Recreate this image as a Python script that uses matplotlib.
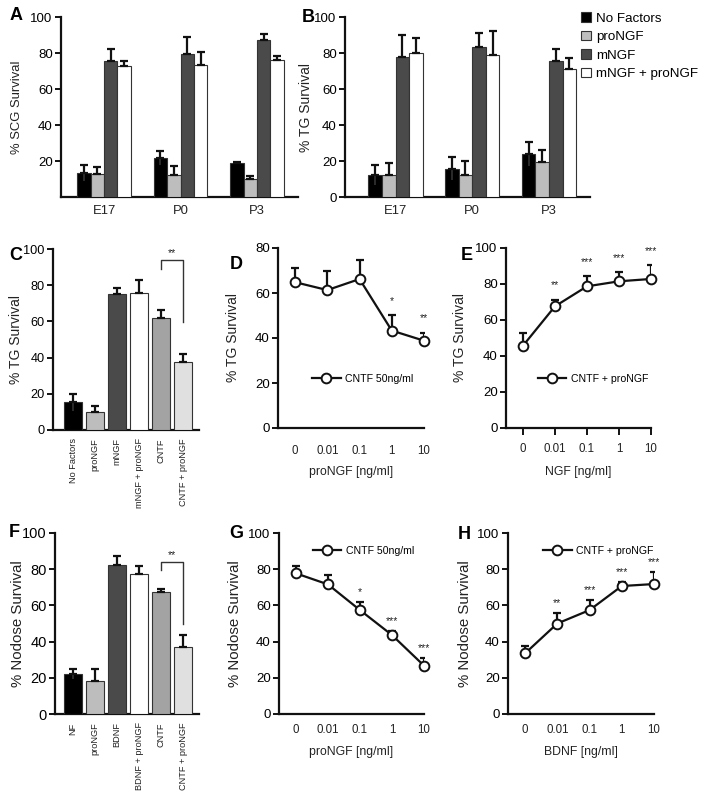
import numpy as np
import matplotlib
matplotlib.use("Agg")
import matplotlib.pyplot as plt

plt.rcParams['font.family'] = ['Liberation Sans', 'DejaVu Sans']

# ---- data ----
ages = ['E17', 'P0', 'P3']
factor_names = ['No Factors', 'proNGF', 'mNGF', 'mNGF + proNGF']
factor_colors = ['#000000', '#bdbdbd', '#4a4a4a', '#ffffff']

scg_mean = [[13.3, 21.5, 18.8], [12.8, 12.0, 10.0], [75.6, 79.4, 87.4], [72.8, 73.3, 76.0]]
scg_err = [[4.5, 3.8, 0.6], [3.7, 5.0, 1.8], [6.6, 9.7, 3.0], [3.0, 7.0, 2.3]]

tg_mean = [[12.0, 15.8, 24.0], [12.4, 12.0, 19.5], [77.8, 83.3, 75.4], [80.2, 79.0, 71.0]]
tg_err = [[5.6, 6.2, 6.5], [6.6, 7.8, 6.5], [12.4, 8.0, 6.6], [8.0, 13.0, 6.4]]

c_labels = ['No Factors', 'proNGF', 'mNGF', 'mNGF + proNGF', 'CNTF', 'CNTF + proNGF']
c_mean = [15.2, 10.2, 75.4, 75.9, 62.0, 37.4]
c_err = [4.8, 2.8, 3.3, 7.0, 4.1, 4.8]

f_labels = ['NF', 'proNGF', 'BDNF', 'BDNF + proNGF', 'CNTF', 'CNTF + proNGF']
f_mean = [22.0, 18.0, 82.5, 77.5, 67.5, 36.8]
f_err = [2.8, 6.8, 5.0, 4.0, 1.8, 6.7]
six_colors = ['#000000', '#bdbdbd', '#4a4a4a', '#ffffff', '#a3a3a3', '#e0e0e0']

dose_labels = ['0', '0.01', '0.1', '1', '10']
d_mean = [64.8, 61.3, 66.2, 43.3, 38.8]
d_err = [6.3, 8.3, 8.3, 6.9, 3.6]
d_stars = ['', '', '', '*', '**']

e_mean = [45.7, 67.6, 78.7, 81.5, 82.8]
e_err = [6.9, 3.7, 5.9, 5.2, 7.5]
e_stars = ['', '**', '***', '***', '***']

g_mean = [77.7, 71.6, 57.4, 43.6, 26.7]
g_err = [4.2, 5.2, 4.6, 2.4, 4.3]
g_stars = ['', '', '*', '***', '***']

h_mean = [33.5, 50.0, 57.4, 70.7, 71.8]
h_err = [4.0, 5.6, 5.6, 2.3, 6.5]
h_stars = ['', '**', '***', '***', '***']

W, H = 707, 807
fig = plt.figure(figsize=(W / 100, H / 100), dpi=100)


def px_axes(l, t, r, b):
    return fig.add_axes([l / W, 1 - b / H, (r - l) / W, (b - t) / H])


def style(ax, fs=9.5):
    for s in ['top', 'right']:
        ax.spines[s].set_visible(False)
    for s in ['left', 'bottom']:
        ax.spines[s].set_linewidth(1.6)
        ax.spines[s].set_color('#111111')
    ax.tick_params(axis='y', direction='out', length=4, width=1.3, labelsize=fs, pad=2)


def ylab(ax, text, right_px, l, r, fs):
    ax.set_ylabel(text, fontsize=fs, color='#222222')
    ax.yaxis.set_label_coords((right_px - l) / (r - l), 0.5)


def err_up(ax, x, m, e, lw=1.6, cap=3.0):
    ax.errorbar(x, m, yerr=[np.zeros(len(e)), e], fmt='none', ecolor='#111111',
                elinewidth=lw, capsize=cap, capthick=lw, zorder=4)


def err_down_dark(ax, x, m, e):
    # lower half of the error bar only shows as a faint line on the black bars
    ax.errorbar(x, m, yerr=[e, np.zeros(len(e))], fmt='none', ecolor='#2c2c2c',
                elinewidth=1.4, capsize=0, zorder=4)


# ---- A and B: grouped bars ----
def grouped(ax, means, errs, ymin_tick):
    w = 0.176
    x = np.arange(len(ages))
    for i in range(4):
        xi = x + (i - 1.5) * w
        ax.bar(xi, means[i], w, color=factor_colors[i], edgecolor='#333333',
               linewidth=0.8, zorder=3, label=factor_names[i])
        if i == 0:
            err_down_dark(ax, xi, means[i], errs[i])
        err_up(ax, xi, means[i], errs[i])
    ax.set_ylim(0, 100)
    ax.set_yticks(np.arange(ymin_tick, 101, 20))
    ax.set_xticks(x)
    ax.set_xticklabels(ages, fontsize=9.4, color='#222222')
    ax.tick_params(axis='x', length=0, pad=6)


axA = px_axes(61, 17, 298, 197)
style(axA)
grouped(axA, scg_mean, scg_err, 20)
axA.set_xlim((61 - 104) / 76.5, (298 - 104) / 76.5)
ylab(axA, '% SCG Survival', 23, 61, 298, 9.4)

axB = px_axes(345, 17, 590, 197)
style(axB)
grouped(axB, tg_mean, tg_err, 0)
axB.set_xlim((345 - 395.5) / 76.75, (590 - 395.5) / 76.75)
ylab(axB, '% TG Survival', 313, 345, 590, 10)
axB.legend(loc='upper left', bbox_to_anchor=(581 / W, 1 - 12 / H), bbox_transform=fig.transFigure,
           frameon=False, fontsize=9.6, handlelength=0.75, handleheight=0.75,
           handletextpad=0.4, labelspacing=0.45, borderpad=0, borderaxespad=0)


# ---- C and F: single bars with bracket ----
def single(ax, labels, means, errs, bracket, fs_tick):
    x = np.arange(len(labels))
    ax.bar(x, means, 0.86, color=six_colors, edgecolor='#333333', linewidth=0.8, zorder=3)
    err_down_dark(ax, x[:1], means[:1], errs[:1])
    err_up(ax, x, means, errs)
    ax.set_ylim(0, 100)
    ax.set_yticks(np.arange(0, 101, 20))
    ax.set_xticks(x)
    ax.set_xticklabels(labels, rotation=90, fontsize=6.6, color='#222222', va='top')
    ax.tick_params(axis='x', length=0, pad=6)
    ax.tick_params(axis='y', labelsize=fs_tick)
    top, left_end, right_end, star_y = bracket
    ax.plot([4, 4, 5, 5], [left_end, top, top, right_end], color='#333333', lw=1.0,
            zorder=5, clip_on=False)
    ax.text(4.5, star_y, '**', ha='center', va='center', fontsize=7.5, color='#222222')


axC = px_axes(53, 249, 199, 430)
style(axC)
single(axC, c_labels, c_mean, c_err, (94, 89, 59.5, 98), 9.2)
axC.set_xlim((53 - 73) / 22, (199 - 73) / 22)
ylab(axC, '% TG Survival', 23, 53, 199, 10)

axF = px_axes(55, 533, 199, 714)
style(axF)
single(axF, f_labels, f_mean, f_err, (84, 79.5, 50, 88), 10.5)
axF.set_xlim((55 - 73) / 22, (199 - 73) / 22)
ylab(axF, '% Nodose Survival', 25, 55, 199, 10.8)


# ---- D, E, G, H: dose-response lines ----
def dose(ax, means, errs, stars, star_off, ytop, leg_label, leg_pos, xlabel, lab_y, ticks, pad):
    x = np.arange(len(dose_labels))
    err_up(ax, x, means, errs, lw=1.6, cap=3.2)
    ax.plot(x, means, '-o', color='#111111', lw=1.6, markersize=7, markerfacecolor='white',
            markeredgewidth=1.4, markeredgecolor='#111111', zorder=5, clip_on=False,
            label=leg_label)
    for xi, m, e, s in zip(x, means, errs, stars):
        if s:
            ax.annotate(s, (xi, m + e), xytext=(0, star_off), textcoords='offset points',
                        ha='center', va='baseline', fontsize=7.5, color='#222222')
    ax.set_ylim(0, ytop)
    ax.set_yticks(np.arange(0, ytop + 1, 20))
    ax.set_xlim(-0.53, 4.0)
    ax.set_xticks(x)
    ax.set_xticklabels(dose_labels, fontsize=8.3, color='#222222')
    ax.tick_params(axis='x', length=5 if ticks else 0, width=1.3, pad=pad)
    ax.set_xlabel(xlabel, fontsize=8.8, color='#222222')
    ax.xaxis.set_label_coords(0.5, lab_y)
    ax.legend(loc='center left', bbox_to_anchor=leg_pos, frameon=False, fontsize=7.6,
              handlelength=2.7, handletextpad=0.4, borderpad=0, borderaxespad=0)


axD = px_axes(278, 248, 424, 428)
style(axD)
dose(axD, d_mean, d_err, d_stars, 8, 80, 'CNTF 50ng/ml', (0.233, 0.272),
     'proNGF [ng/ml]', (428 - 466) / 180, False, 12)
ylab(axD, '% TG Survival', 240, 278, 424, 10)

axE = px_axes(506, 248, 651, 428)
style(axE)
dose(axE, e_mean, e_err, e_stars, 8, 100, 'CNTF + proNGF', (0.22, 0.272),
     'NGF [ng/ml]', (428 - 466) / 180, True, 6)
ylab(axE, '% TG Survival', 467, 506, 651, 10)

axG = px_axes(279, 533, 424, 714)
style(axG)
dose(axG, g_mean, g_err, g_stars, 5, 100, 'CNTF 50ng/ml', (0.234, 0.902),
     'proNGF [ng/ml]', (714 - 746) / 181, False, 7)
ylab(axG, '% Nodose Survival', 242, 279, 424, 10.8)

axH = px_axes(508, 533, 654, 714)
style(axH)
dose(axH, h_mean, h_err, h_stars, 5, 100, 'CNTF + proNGF', (0.24, 0.902),
     'BDNF [ng/ml]', (714 - 746) / 181, False, 7)
ylab(axH, '% Nodose Survival', 472, 508, 654, 10.8)

# ---- panel letters ----
letters = {'A': (10, 7), 'B': (302, 9), 'C': (9, 247), 'D': (230, 256),
           'E': (461, 247), 'F': (9, 524), 'G': (229, 525), 'H': (458, 526)}
for k, (lx, ty) in letters.items():
    fig.text(lx / W, 1 - ty / H, k, fontsize=13, fontweight='bold', ha='left', va='top')

fig.savefig('out.png', dpi=100)
